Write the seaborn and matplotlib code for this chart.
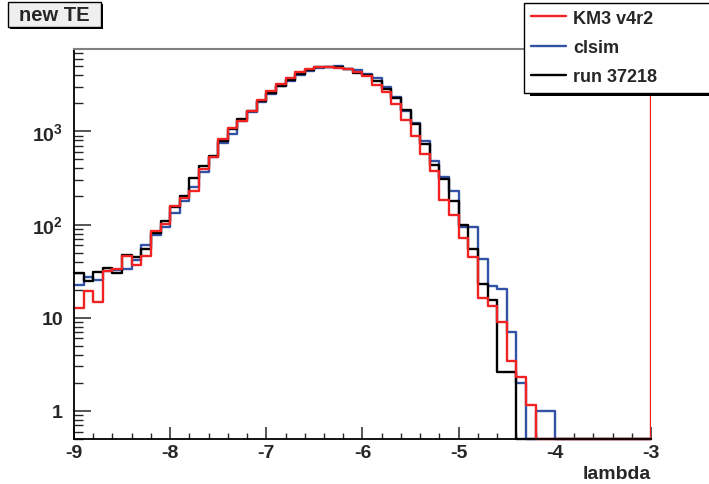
import numpy as np
import pandas as pd
import matplotlib
matplotlib.use("Agg")
import matplotlib.pyplot as plt
import matplotlib.ticker as mticker
from matplotlib.patches import Rectangle
from matplotlib.lines import Line2D
import seaborn as sns

# lambda histogram: 60 bins of width 0.1 between -9 and -3
lambda_min = -9.0
lambda_max = -3.0
n_bins = 60

# bin contents (0 = empty bin)
km3_v4r2 = [12.6, 19.4, 14.6, 31.8, 33, 46.1, 36.7, 46, 85.5, 101,
            159, 195, 230, 394, 534, 826, 1085, 1291, 1663, 2180,
            2692, 3222, 3740, 4367, 4700, 4943, 4943, 4786, 4667, 4330,
            3899, 3167, 2661, 1963, 1333, 897, 570, 378, 184, 127,
            72.6, 45, 16.1, 13.4, 9.0, 3.4, 2.3, 1.15, 0, 0,
            0, 0, 0, 0, 0, 0, 0, 0, 0, 0]
clsim = [22.3, 27.7, 25.3, 32, 32.4, 33.2, 42, 60, 77, 93,
         132, 180, 250, 368, 534, 749, 943, 1291, 1600, 2048,
         2515, 3043, 3494, 4027, 4405, 4820, 4943, 4989, 4630, 4594,
         4122, 3707, 3014, 2354, 1663, 1230, 793, 483, 321, 230,
         94.5, 94.5, 42.5, 22, 20.2, 7.0, 2.0, 0, 1, 1,
         0, 0, 0, 0, 0, 0, 0, 0, 0, 0]
run_37218 = [30, 24.8, 30.6, 34.6, 30, 46.9, 44.4, 55.3, 82, 110,
             155, 203, 315, 421, 543, 793, 1050, 1355, 1640, 2120,
             2559, 3090, 3560, 4125, 4550, 4868, 4943, 4868, 4667, 4226,
             4054, 3494, 2825, 2262, 1693, 1198, 731, 438, 307, 180,
             98.6, 54.4, 23.3, 15.5, 2.6, 2.6, 0, 0, 0, 0,
             0, 0, 0, 0, 0, 0, 0, 0, 0, 0]

series_names = ["KM3 v4r2", "clsim", "run 37218"]
series_colors = ["#f22222", "#3252a6", "#000000"]

y_min, y_max = 0.5, 7650
W, H = 709, 485

sns.set_style("ticks")
plt.rcParams["font.family"] = ["Liberation Sans", "DejaVu Sans"]
plt.rcParams["font.weight"] = "bold"
plt.rcParams["axes.unicode_minus"] = False
plt.rcParams["mathtext.fontset"] = "custom"
plt.rcParams["mathtext.rm"] = "Liberation Sans:bold"
plt.rcParams["mathtext.bf"] = "Liberation Sans:bold"

edges = np.linspace(lambda_min, lambda_max, n_bins + 1)
centres = 0.5 * (edges[:-1] + edges[1:])

# long table, empty bins are put on the bottom of the frame like ROOT does
frames = []
for name, vals in zip(series_names, [km3_v4r2, clsim, run_37218]):
    v = np.asarray(vals, dtype=float)
    frames.append(pd.DataFrame({"lambda": centres,
                                "entries": np.where(v > 0, v, y_min),
                                "sample": name}))
df = pd.concat(frames, ignore_index=True)


def px_rect(x, y, w, h, **kw):
    # rectangle given in pixels from the top left corner of the figure
    return Rectangle((x / W, 1 - (y + h) / H), w / W, h / H,
                     transform=fig.transFigure, **kw)


fig = plt.figure(figsize=(W / 100, H / 100), dpi=100)
fig.patch.set_facecolor("white")
ax = fig.add_axes([74 / W, 1 - 440 / H, (651 - 74) / W, (440 - 50) / H])

# clsim first, KM3 on top
for name in ["clsim", "run 37218", "KM3 v4r2"]:
    col = series_colors[series_names.index(name)]
    sns.histplot(data=df[df["sample"] == name], x="lambda", weights="entries",
                 bins=edges.tolist(), element="step", fill=False, color=col,
                 linewidth=1.7, ax=ax, clip_on=False)

ax.axvline(lambda_max, color=series_colors[0], lw=1.7)

ax.set_yscale("log")
ax.set_xlim(lambda_min, lambda_max)
ax.set_ylim(y_min, y_max)

ax.xaxis.set_major_locator(mticker.MultipleLocator(1))
ax.xaxis.set_minor_locator(mticker.MultipleLocator(0.2))
ax.yaxis.set_major_locator(mticker.FixedLocator([1, 10, 100, 1000]))
ax.yaxis.set_minor_locator(mticker.LogLocator(base=10, subs=np.arange(2, 10)))
ax.yaxis.set_minor_formatter(mticker.NullFormatter())
ax.yaxis.set_major_formatter(mticker.FixedFormatter(
    ["1", "10", r"$\mathbf{10^{2}}$", r"$\mathbf{10^{3}}$"]))

ax.tick_params(axis="x", which="major", direction="in", length=8.5, width=1.1,
               labelsize=14, pad=3.5)
ax.tick_params(axis="x", which="minor", direction="in", length=4.3, width=1.0)
ax.tick_params(axis="y", which="major", direction="in", length=12.5, width=1.1,
               labelsize=14, pad=8)
ax.tick_params(axis="y", which="minor", direction="in", length=6.5, width=1.0)

ax.set_xlabel("lambda", loc="right", fontsize=14, fontweight="bold", labelpad=3)
ax.set_ylabel("")

for side in ["left", "bottom"]:
    ax.spines[side].set_color("black")
    ax.spines[side].set_linewidth(1.3)
ax.spines["top"].set_color("#808080")
ax.spines["top"].set_linewidth(1.5)
ax.spines["right"].set_visible(False)

# title box
fig.add_artist(px_rect(10, 5, 93, 25, facecolor="black", edgecolor="none", zorder=4))
fig.add_artist(px_rect(8, 3, 93, 25, facecolor="#efefef", edgecolor="black",
                       linewidth=1.0, zorder=4.5))
fig.text(54.5 / W, 1 - 15.5 / H, "new TE", ha="center", va="center",
         fontsize=14.5, fontweight="bold", zorder=5)

# legend with its shadow
fig.add_artist(px_rect(530, 8, 200, 89, facecolor="black", edgecolor="none", zorder=4))
handles = [Line2D([], [], color=c, lw=1.7) for c in series_colors]
leg = fig.legend(handles, series_names, loc="upper left",
                 bbox_to_anchor=(524 / W, 1 - 91 / H, 200 / W, 87.5 / H),
                 bbox_transform=fig.transFigure, mode="expand",
                 borderaxespad=0, frameon=True, fancybox=False, framealpha=1,
                 edgecolor="black", prop={"size": 13, "weight": "bold"},
                 handlelength=1.9, handletextpad=0.4, borderpad=0.4,
                 labelspacing=0.68)
leg.get_frame().set_linewidth(1.0)
leg.set_zorder(5)

fig.savefig("out.png", dpi=100, facecolor="white")
